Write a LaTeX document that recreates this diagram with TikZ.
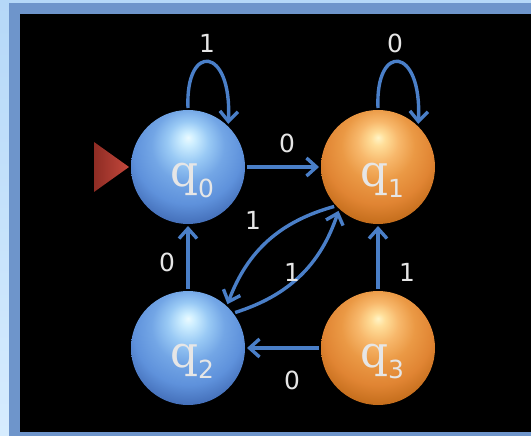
\documentclass[tikz,border=0pt]{standalone}
\usepackage{fontspec}
\setmainfont{DejaVu Sans}
\newfontfamily\qfont{DejaVu Serif}
\usetikzlibrary{arrows.meta}
\pgfdeclareradialshading{bluesph}{\pgfpoint{0bp}{13bp}}{%
  rgb(0bp)=(0.92,0.98,1);
  rgb(3bp)=(0.80,0.93,1);
  rgb(9bp)=(0.60,0.79,0.96);
  rgb(16bp)=(0.45,0.65,0.90);
  rgb(24bp)=(0.37,0.57,0.86);
  rgb(31bp)=(0.27,0.44,0.73);
  rgb(38bp)=(0.18,0.31,0.55);
  rgb(60bp)=(0.10,0.18,0.35)}
\pgfdeclareradialshading{orangesph}{\pgfpoint{0bp}{13bp}}{%
  rgb(0bp)=(1,0.96,0.78);
  rgb(3bp)=(1,0.87,0.60);
  rgb(9bp)=(0.97,0.72,0.42);
  rgb(16bp)=(0.92,0.60,0.27);
  rgb(24bp)=(0.88,0.52,0.20);
  rgb(31bp)=(0.77,0.43,0.11);
  rgb(38bp)=(0.58,0.30,0.06);
  rgb(60bp)=(0.35,0.18,0.03)}
\definecolor{framebl}{HTML}{6E95CB}
\definecolor{lightbl}{HTML}{B5D8F8}
\definecolor{lightbl2}{HTML}{D6ECFE}
\definecolor{arrbl}{HTML}{4A7FC8}
\definecolor{lblc}{HTML}{E6E6E6}
\definecolor{redL}{HTML}{8E2C24}
\definecolor{redR}{HTML}{C4483C}
\tikzset{
  sphere/.style={circle, minimum size=114bp, inner sep=0pt, outer sep=2bp},
  bluestate/.style={sphere, shading=bluesph},
  orangestate/.style={sphere, shading=orangesph},
  qlabel/.style={text=lblc, inner sep=0pt, anchor=center},
  lbl/.style={text=lblc, font=\fontsize{25}{25}\selectfont, inner sep=0pt},
  arr/.style={draw=arrbl, line width=3.4bp, -{Straight Barb[length=10bp,width=18bp]}},
}
\newcommand{\qname}[1]{{\qfont\fontsize{44}{44}\selectfont q}\raisebox{-11bp}{\fontsize{25}{25}\selectfont #1}}
\begin{document}
\begin{tikzpicture}[x=1bp,y=-1bp]
\useasboundingbox (0,0) rectangle (531,436);
% background
\shade[top color=lightbl, bottom color=lightbl2] (0,0) rectangle (531,436);
\fill[framebl] (9,3) rectangle (531,436);
\fill[black] (20,14) rectangle (531,432);
% states
\node[bluestate] (q0) at (188,167) {};
\node[orangestate] (q1) at (378,167) {};
\node[bluestate] (q2) at (188,348) {};
\node[orangestate] (q3) at (378,348) {};
\node[qlabel] (t0) at (192,180) {\qname{0}};
\node[qlabel] (t1) at (382,180) {\qname{1}};
\node[qlabel] (t2) at (192,361) {\qname{2}};
\node[qlabel] (t3) at (382,361) {\qname{3}};
% initial marker
\shade[left color=redL, right color=redR] (q0.west) -- ++(-35,-25) -- ++(0,50) -- cycle;
% loops
\draw[arr] (q0.90) .. controls +(-3,-66) and +(4,-78) .. (q0.47);
\draw[arr] (q1.90) .. controls +(-3,-66) and +(4,-78) .. (q1.47);
% straight edges
\draw[arr] (q0.east) -- (q1.west);
\draw[arr] (q2.north) -- (q0.south);
\draw[arr] (q3.north) -- (q1.south);
\draw[arr] (q3.west) -- (q2.east);
% curved edges
\draw[arr] (q1.222) to[bend right=27] (q2.48);
\draw[arr] (q2.37) to[bend right=27] (q1.228);
% labels
\node[lbl] (l1) at (207,43) {1};
\node[lbl] (l2) at (395,43) {0};
\node[lbl] (l3) at (287,143) {0};
\node[lbl] (l4) at (167,262) {0};
\node[lbl] (l5) at (407,272) {1};
\node[lbl] (l6) at (292,380) {0};
\node[lbl] (l7) at (253,220) {1};
\node[lbl] (l8) at (292,272) {1};
\end{tikzpicture}
\end{document}
